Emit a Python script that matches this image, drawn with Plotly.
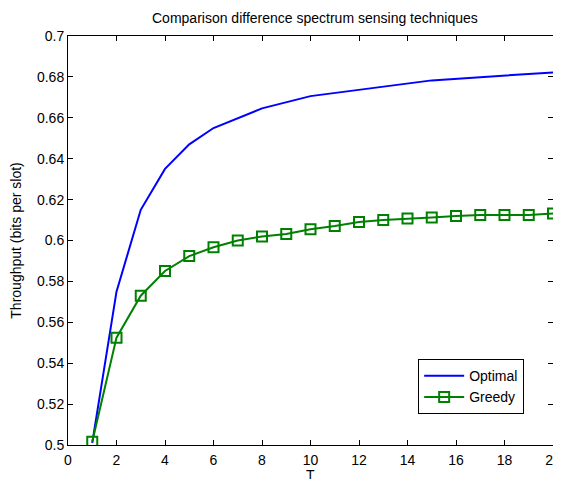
import plotly.graph_objects as go

opt_x = [1, 2, 3, 4, 5, 6, 8, 10, 15, 20]
opt_y = [0.501, 0.575, 0.615, 0.635, 0.647, 0.655, 0.6646, 0.6706, 0.6783, 0.6822]

greedy_x = list(range(1, 21))
greedy_y = [0.5016, 0.5525, 0.573, 0.5851, 0.5924, 0.5967, 0.6000, 0.6020, 0.6032, 0.6055,
            0.6071, 0.6090, 0.6100, 0.6108, 0.6113, 0.6120, 0.6125, 0.6125, 0.6125, 0.6132]

x_ticks = list(range(0, 21, 2))
y_ticks = [0.5, 0.52, 0.54, 0.56, 0.58, 0.6, 0.62, 0.64, 0.66, 0.68, 0.7]
y_labels = ["0.5", "0.52", "0.54", "0.56", "0.58", "0.6", "0.62", "0.64", "0.66", "0.68", "0.7"]

FONT = "Liberation Sans, Arial, sans-serif"

fig = go.Figure()
fig.add_trace(go.Scatter(x=opt_x, y=opt_y, mode="lines", name="Optimal",
                         line=dict(color="#0000ff", width=2)))
fig.add_trace(go.Scatter(x=greedy_x, y=greedy_y, mode="lines+markers", name="Greedy",
                         line=dict(color="#008000", width=2),
                         marker=dict(symbol="square-open", size=10, color="#008000",
                                     line=dict(width=2, color="#008000"))))

axis_common = dict(showline=True, linecolor="black", linewidth=1, mirror="allticks",
                   ticks="inside", ticklen=5, tickcolor="black", showgrid=False,
                   zeroline=False, automargin=False, ticklabeloverflow="allow",
                   tickfont=dict(family=FONT, size=14, color="black"))

fig.update_xaxes(range=[0, 20], tickvals=x_ticks, ticklabelstandoff=2, **axis_common)
fig.update_yaxes(range=[0.5, 0.7], tickvals=y_ticks, ticktext=y_labels,
                 title=dict(text="Throughput (bits per slot)", standoff=16,
                            font=dict(family=FONT, size=14, color="black")),
                 **axis_common)

fig.add_annotation(text="T", xref="x domain", yref="y domain", x=0.5, y=0,
                   xanchor="center", yanchor="top", yshift=-21, showarrow=False,
                   borderpad=0,
                   font=dict(family=FONT, size=14, color="black"))

fig.update_layout(
    width=553, height=471,
    margin=dict(l=60, r=8, t=28, b=34),
    paper_bgcolor="white", plot_bgcolor="white",
    title=dict(text="Comparison difference spectrum sensing techniques", x=0.555, xanchor="center",
               y=0.979, yanchor="middle",
               font=dict(family=FONT, size=14, color="black")),
    legend=dict(x=0.722, y=0.21, xanchor="left", yanchor="top", bgcolor="white",
                bordercolor="black", borderwidth=1,
                font=dict(family=FONT, size=14, color="black"),
                tracegroupgap=0, itemwidth=40),
    showlegend=True,
)

fig.write_html("out.html")
